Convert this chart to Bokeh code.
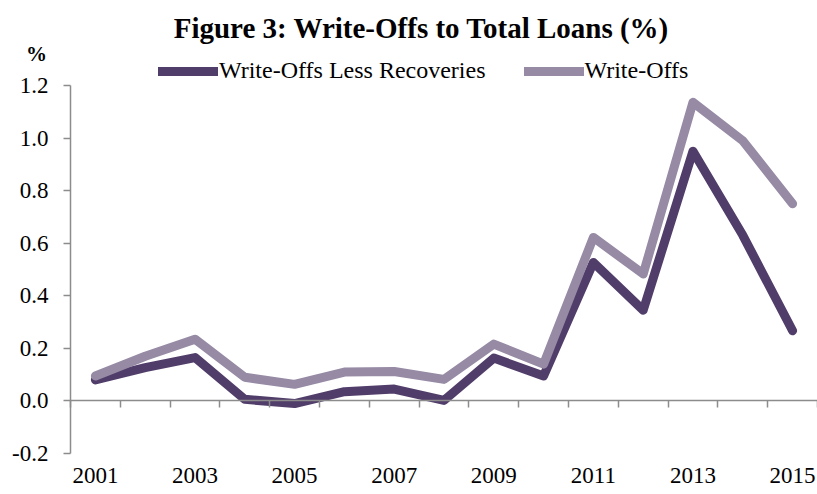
from bokeh.plotting import figure
from bokeh.models import (Range1d, FixedTicker, LinearAxis, Legend, LegendItem,
                          Label, NumeralTickFormatter, CustomJSTickFormatter)
from bokeh.embed import file_html
from bokeh.resources import INLINE

# ---- data ----
years = [2001, 2002, 2003, 2004, 2005, 2006, 2007, 2008,
         2009, 2010, 2011, 2012, 2013, 2014, 2015]
less_recoveries = [0.08, 0.127, 0.165, 0.006, -0.01, 0.035, 0.045, 0.002,
                   0.163, 0.095, 0.527, 0.345, 0.95, 0.63, 0.267]
write_offs = [0.095, 0.17, 0.235, 0.09, 0.063, 0.11, 0.112, 0.082,
              0.216, 0.14, 0.622, 0.483, 1.136, 0.99, 0.75]
series_names = ["Write-Offs Less Recoveries", "Write-Offs"]
y_ticks = [-0.2, 0.0, 0.2, 0.4, 0.6, 0.8, 1.0, 1.2]
x_label_years = years[::2]
title_text = "Figure 3: Write-Offs to Total Loans (%)"
unit_text = "%"

# ---- layout (pixels) ----
W, H = 817, 494
PL, PR, PT, PB = 70, 817, 85, 453  # plotting area edges

DARK = "#513D69"
LIGHT = "#968AA4"
AXIS = "#8c8c8c"
SERIF = "Liberation Serif"

xs0, xs1 = years[0] - 0.5, years[-1] + 0.5
ys0, ys1 = y_ticks[0], y_ticks[-1]
ppx = (PR - PL) / (xs1 - xs0)
ppy = (PB - PT) / (ys1 - ys0)
x_range = Range1d(xs0 - PL / ppx, xs1 + (W - PR) / ppx)
y_range = Range1d(ys0 - (H - PB) / ppy, ys1 + PT / ppy)

p = figure(width=W, height=H, output_backend="svg", toolbar_location=None,
           title=None, x_range=x_range, y_range=y_range,
           x_axis_location=None, y_axis_location=None,
           min_border=0)
p.outline_line_color = None
p.grid.visible = False
p.background_fill_color = "white"
p.border_fill_color = "white"

# lines
r1 = p.line(years, less_recoveries, line_color=DARK, line_width=9,
            line_cap="round", line_join="round")
r2 = p.line(years, write_offs, line_color=LIGHT, line_width=9,
            line_cap="round", line_join="round")

# y axis
ya = LinearAxis(fixed_location=xs0, bounds=(ys0, ys1),
                ticker=FixedTicker(ticks=y_ticks),
                formatter=NumeralTickFormatter(format="0.0"),
                axis_line_color=AXIS, axis_line_width=1.5,
                major_tick_line_color=AXIS, major_tick_line_width=1.5,
                major_tick_out=7, major_tick_in=0,
                minor_tick_line_color=None,
                major_label_standoff=15,
                major_label_text_font=SERIF,
                major_label_text_font_size="23px",
                major_label_text_color="black")
p.add_layout(ya, "left")

# zero line with category-boundary ticks
boundaries = [y - 0.5 for y in years] + [years[-1] + 0.5]
zero_axis = LinearAxis(fixed_location=0, bounds=(xs0, xs1),
                       ticker=FixedTicker(ticks=boundaries),
                       formatter=CustomJSTickFormatter(code="return ''"),
                       axis_line_color=AXIS, axis_line_width=1.5,
                       major_tick_line_color=AXIS, major_tick_line_width=1.5,
                       major_tick_in=0, major_tick_out=7,
                       minor_tick_line_color=None,
                       major_label_text_font_size="0px")
p.add_layout(zero_axis, "below")

# year labels below the plotting area
xa = LinearAxis(fixed_location=ys0,
                ticker=FixedTicker(ticks=x_label_years),
                axis_line_color=None, major_tick_line_color=None,
                minor_tick_line_color=None,
                major_tick_out=0, major_tick_in=0,
                major_label_standoff=14,
                major_label_text_font=SERIF,
                major_label_text_font_size="23px",
                major_label_text_color="black")
p.add_layout(xa, "below")

# legend
legend = Legend(items=[LegendItem(label=series_names[0], renderers=[r1]),
                       LegendItem(label=series_names[1], renderers=[r2])],
                orientation="horizontal", location=(158, H - 84),
                glyph_width=60, glyph_height=24, label_height=24,
                label_standoff=1, spacing=38, padding=0, margin=0,
                label_text_font=SERIF, label_text_font_size="24px",
                label_text_color="black",
                border_line_color=None, background_fill_alpha=0)
p.add_layout(legend, "center")

# title and unit
p.add_layout(Label(x=421, y=H - 27, x_units="screen", y_units="screen",
                   text=title_text, text_font=SERIF, text_font_size="29px",
                   text_font_style="bold", text_align="center",
                   text_baseline="alphabetic", text_color="black"))
p.add_layout(Label(x=36, y=H - 53, x_units="screen", y_units="screen",
                   text=unit_text, text_font=SERIF, text_font_size="21px",
                   text_font_style="bold", text_align="center",
                   text_baseline="middle", text_color="black"))

open("out.html", "w").write(file_html(p, INLINE))
